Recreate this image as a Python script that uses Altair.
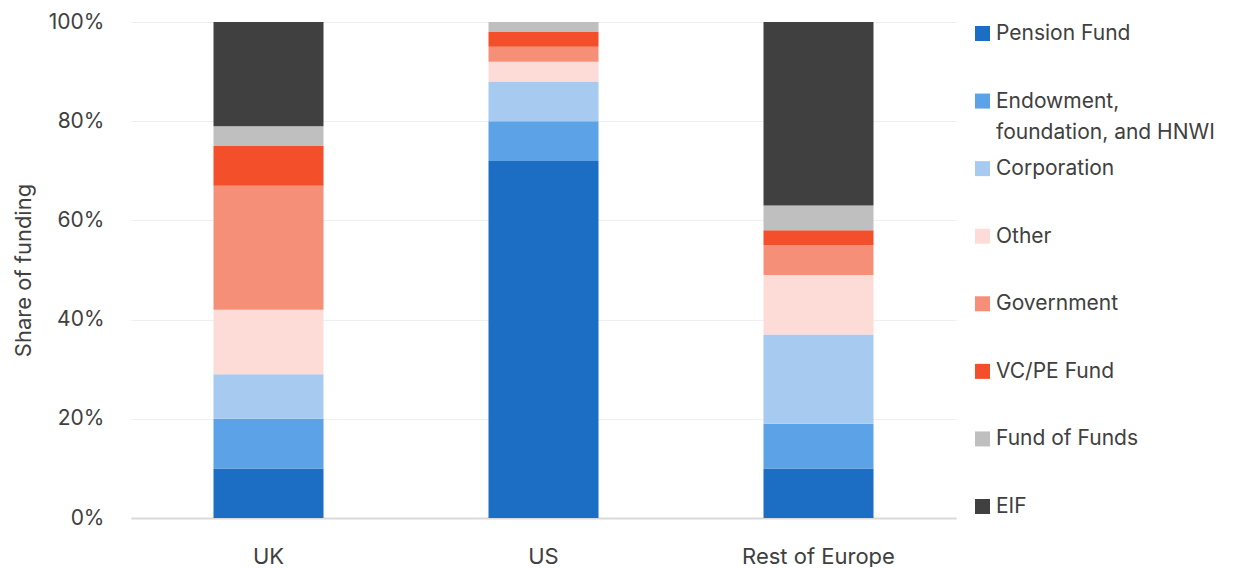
import altair as alt
import pandas as pd

regions = ["UK", "US", "Rest of Europe"]
sources = ["Pension Fund", "Endowment, foundation, and HNWI", "Corporation", "Other",
           "Government", "VC/PE Fund", "Fund of Funds", "EIF"]
legend_labels = ["Pension Fund", "Endowment,|foundation, and HNWI", "Corporation", "Other",
                 "Government", "VC/PE Fund", "Fund of Funds", "EIF"]
colors = ["#1b6ec3", "#5ba2e6", "#a7caf1", "#fddcd8", "#f58f77", "#f24f2a", "#bfbfbf", "#404040"]

uk = [10, 10, 9, 13, 25, 8, 4, 21]
us = [72, 8, 8, 4, 3, 3, 2, 0]
roe = [10, 9, 18, 12, 6, 3, 5, 37]

rows = []
for reg, vals in zip(regions, [uk, us, roe]):
    for i, (s, v) in enumerate(zip(sources, vals)):
        rows.append({"region": reg, "source": s, "share": v / 100, "idx": i})
df = pd.DataFrame(rows)

FONT = "Inter"
TXT = "#404040"

bars = alt.Chart(df).mark_bar().encode(
    x=alt.X("region:N", sort=regions, title=None,
            scale=alt.Scale(paddingInner=0.6, paddingOuter=0.3),
            axis=alt.Axis(labelAngle=0, ticks=False, labelPadding=28, labelFontSize=22,
                          labelColor=TXT, labelFont=FONT, domainColor="#d9d9d9", domainWidth=2,
                          grid=False)),
    y=alt.Y("share:Q", stack="zero", title="Share of funding",
            scale=alt.Scale(domain=[0, 1]),
            axis=alt.Axis(format="%", values=[0, 0.2, 0.4, 0.6, 0.8, 1.0], ticks=False,
                          domain=False, labelPadding=27, labelFontSize=21, labelColor=TXT,
                          labelFont=FONT, gridColor="#efefef", gridWidth=1,
                          titleFontSize=22, titleFont=FONT, titleColor=TXT,
                          titleFontWeight="normal", titlePadding=13)),
    color=alt.Color("source:N", sort=sources,
                    scale=alt.Scale(domain=sources, range=colors), legend=None),
    order=alt.Order("idx:Q", sort="ascending"),
).properties(width=825, height=496)

leg_df = pd.DataFrame({"source": sources, "label": legend_labels})

leg_base = alt.Chart(leg_df).transform_calculate(
    lines="split(datum.label, '|')"
).encode(
    y=alt.Y("source:N", sort=sources, axis=None,
            scale=alt.Scale(type="point", padding=0.17)),
)
leg_sq = leg_base.mark_square(size=225, opacity=1).encode(
    x=alt.value(14.5),
    color=alt.Color("source:N", scale=alt.Scale(domain=sources, range=colors), legend=None),
)
leg_txt = leg_base.mark_text(align="left", baseline="line-top", lineHeight=31, dy=-15.5,
                             fontSize=21, font=FONT, color=TXT).encode(
    x=alt.value(28),
    text="lines:N",
)
legend = alt.layer(leg_sq, leg_txt).properties(width=240, height=496)

chart = alt.hconcat(bars, legend, spacing=12).properties(
    padding={"left": 12, "top": 11, "right": 0, "bottom": 0}
).configure_view(strokeWidth=0)

chart.save("out.html", embed_options={"renderer": "svg", "actions": False})
